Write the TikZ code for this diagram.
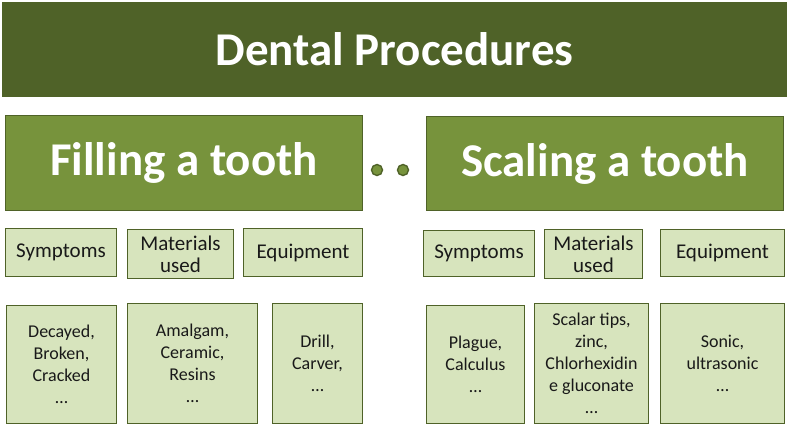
\documentclass[tikz,border=0pt]{standalone}
\usepackage{fontspec}
\setmainfont{Carlito}
\definecolor{olivedark}{HTML}{4F6228}
\definecolor{olivemid}{HTML}{77933C}
\definecolor{olivelight}{HTML}{D7E4BD}
\tikzset{
  banner/.style={fill=olivedark, text=white, inner sep=0pt,
    font=\fontsize{47}{52}\selectfont\bfseries},
  procbox/.style={draw=olivedark, line width=1.8pt, fill=olivemid, text=white,
    inner sep=0pt, font=\fontsize{47}{52}\selectfont\bfseries},
  headbox/.style={draw=olivedark, line width=1.8pt, fill=olivelight, text=black!90,
    inner sep=0pt, align=center, font=\fontsize{21}{22}\selectfont},
  itembox/.style={headbox, font=\fontsize{18}{22}\selectfont},
  dot/.style={circle, draw=olivedark, line width=1.4pt, fill=olivemid,
    minimum size=11pt, inner sep=0pt}
}
\begin{document}
\begin{tikzpicture}[x=1pt,y=-1pt]
  \useasboundingbox (0,0) rectangle (789,429);
  % title
  \node[banner, minimum width=785pt, minimum height=95pt] (title) at (394.5,49.5) {Dental Procedures};
  % the two procedures
  \node[procbox, minimum width=357pt, minimum height=95pt] (fill) at (184,163) {Filling a tooth};
  \node[procbox, minimum width=357pt, minimum height=94pt] (scale) at (605,163.5) {Scaling a tooth};
  \node[dot] (dotA) at (377,170) {};
  \node[dot] (dotB) at (403,170) {};
  % headings, filling
  \node[headbox, minimum width=111pt, minimum height=48pt] (fillsym) at (61,252.5) {Symptoms};
  \node[headbox, minimum width=106pt, minimum height=49pt] (fillmat) at (180.5,254) {Materials\\used};
  \node[headbox, minimum width=119pt, minimum height=48pt] (filleq) at (303,252.5) {Equipment};
  % headings, scaling
  \node[headbox, minimum width=111pt, minimum height=46pt] (scalesym) at (479,253.5) {Symptoms};
  \node[headbox, minimum width=98pt, minimum height=49pt] (scalemat) at (593.5,254) {Materials\\used};
  \node[headbox, minimum width=124pt, minimum height=47pt] (scaleeq) at (722.5,253) {Equipment};
  % details, filling
  \node[itembox, minimum width=110pt, minimum height=118pt] (fillsymtxt) at (61.5,364.5) {Decayed,\\Broken,\\Cracked\\…};
  \node[itembox, minimum width=130pt, minimum height=120pt] (fillmattxt) at (192.5,363.5) {Amalgam,\\Ceramic,\\Resins\\…};
  \node[itembox, minimum width=90pt, minimum height=120pt] (filleqtxt) at (317.5,363.5) {Drill,\\Carver,\\…};
  % details, scaling
  \node[itembox, minimum width=98pt, minimum height=118pt] (scalesymtxt) at (475.5,364.5) {Plague,\\Calculus\\…};
  \node[itembox, minimum width=114pt, minimum height=120pt] (scalemattxt) at (591.5,363.5) {Scalar tips,\\zinc,\\Chlorhexidin\\e gluconate\\…};
  \node[itembox, minimum width=124pt, minimum height=120pt] (scaleeqtxt) at (722.5,363.5) {Sonic,\\ultrasonic\\…};
\end{tikzpicture}
\end{document}
